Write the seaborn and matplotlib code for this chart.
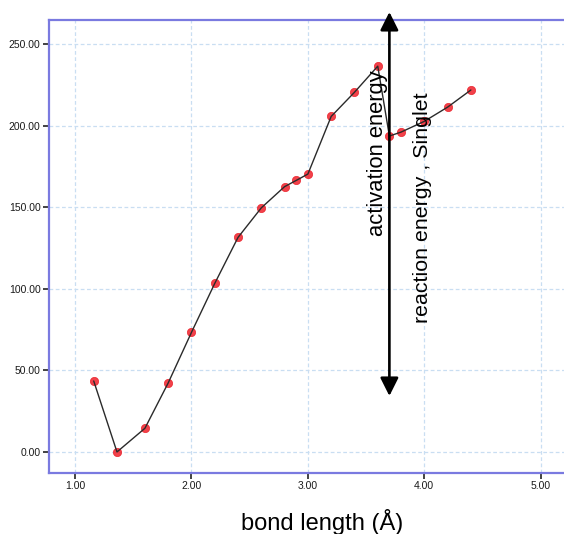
import numpy as np
import pandas as pd
import matplotlib
matplotlib.use('Agg')
import matplotlib.pyplot as plt
import seaborn as sns
from matplotlib.ticker import FormatStrFormatter

# dados
bond_length = [1.16, 1.36, 1.60, 1.80, 2.00, 2.20, 2.40, 2.60, 2.80, 2.90,
               3.00, 3.20, 3.40, 3.60, 3.70, 3.80, 4.00, 4.20, 4.40]
energy = [43.5, 0.0, 14.5, 42.3, 73.3, 103.3, 131.5, 149.6, 162.6, 166.4,
          170.3, 205.6, 220.4, 236.4, 193.6, 196.0, 202.6, 211.3, 221.8]
x_ticks = [1.0, 2.0, 3.0, 4.0, 5.0]
y_ticks = [0, 50, 100, 150, 200, 250]

df = pd.DataFrame({'bond_length': bond_length, 'energy': energy})

sns.set_style('white')
plt.rcParams['font.family'] = ['Liberation Sans', 'DejaVu Sans']
plt.rcParams['text.color'] = 'black'

fig = plt.figure(figsize=(5.64, 5.34), dpi=100)
ax = fig.add_axes([49 / 564, 1 - 473 / 534, 515 / 564, 453 / 534])

sns.scatterplot(data=df, x='bond_length', y='energy', ax=ax, color='#f0202a',
                s=36, edgecolor='#e8161f', linewidth=0.5, alpha=0.85, zorder=3)
sns.lineplot(data=df, x='bond_length', y='energy', ax=ax, color='#2a2a2a',
             lw=1.0, sort=False, zorder=4)

ax.set_xlim(0.776, 5.2)
ax.set_ylim(-12.9, 264.7)
ax.set_xticks(x_ticks)
ax.set_yticks(y_ticks)
ax.xaxis.set_major_formatter(FormatStrFormatter('%.2f'))
ax.yaxis.set_major_formatter(FormatStrFormatter('%.2f'))
ax.tick_params(axis='both', labelsize=7.5, length=4, width=1.2, color='#222222',
               labelcolor='#1a1a1a', direction='out', bottom=True, left=True, pad=2)

ax.grid(True, color='#c9def2', lw=0.9, ls=(0, (3, 2)))
ax.set_axisbelow(True)
for side in ['left', 'top', 'bottom']:
    ax.spines[side].set_color('#7a7ae0')
    ax.spines[side].set_linewidth(1.6)
ax.spines['right'].set_visible(False)

ax.set_xlabel('')
ax.set_ylabel('')

# seta dupla e textos
ax.annotate('', xy=(3.70, 269.6), xytext=(3.70, 34.3), xycoords='data',
            arrowprops=dict(arrowstyle='<|-|>,head_length=1.1,head_width=0.55',
                            lw=1.9, color='black', mutation_scale=10,
                            shrinkA=0, shrinkB=0),
            annotation_clip=False, zorder=5)
ax.text(3.597, 183, 'activation energy', rotation=90, fontsize=15.8,
        color='black', ha='center', va='center', zorder=6)
ax.text(3.985, 149.5, 'reaction energy , Singlet', rotation=90, fontsize=15.4,
        color='black', ha='center', va='center', zorder=6)

fig.text(322 / 564, 1 - 522 / 534, 'bond length (Å)', fontsize=17,
         color='black', ha='center', va='center')

fig.savefig('out.png', dpi=100)
